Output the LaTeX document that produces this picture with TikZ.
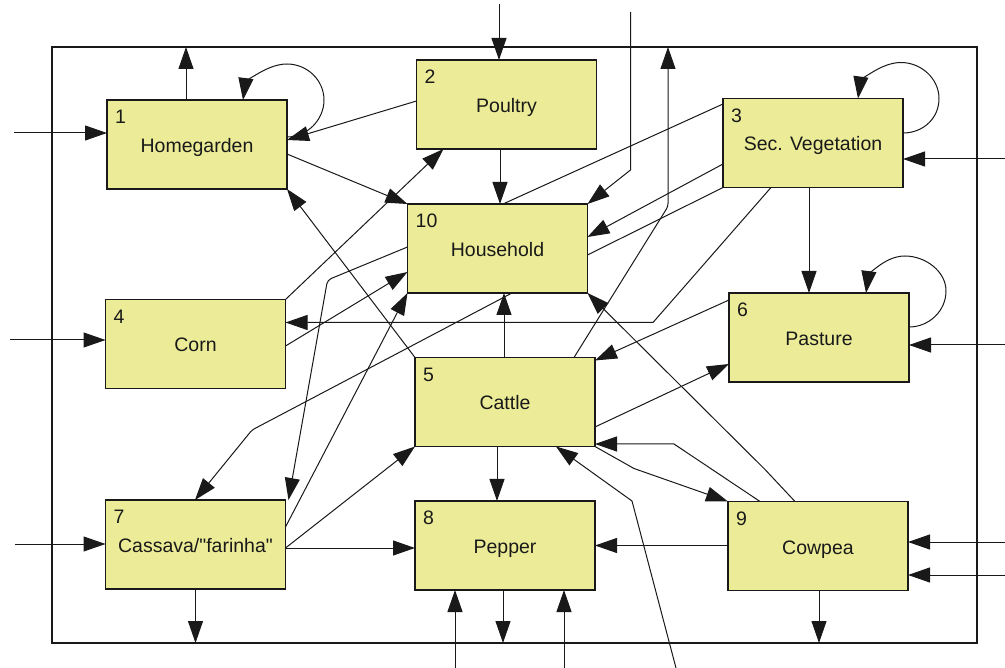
\documentclass[tikz,border=0pt]{standalone}
\usepackage{fontspec}
\setmainfont{Liberation Sans}[Ligatures=TeXOff]
\usetikzlibrary{calc,arrows.meta}
\definecolor{boxfill}{RGB}{236,236,152}
\definecolor{ink}{RGB}{25,25,25}
\begin{document}
\begin{tikzpicture}[x=1pt,y=-1pt,
  box/.style={draw=ink,line width=1.3pt,fill=boxfill,minimum width=180pt,minimum height=89pt,inner sep=0pt,outer sep=0pt,font=\fontsize{19.5}{22}\selectfont,text=ink,text height=16pt,text depth=0pt},
  num/.style={anchor=west,inner sep=0pt,font=\fontsize{19.5}{22}\selectfont,text=ink},
  conn/.style={draw=ink,line width=1pt},
  arr/.style={conn,-{Triangle[length=22pt,width=15pt]}},
  framestyle/.style={draw=ink,line width=1.3pt,minimum width=925pt,minimum height=596pt,inner sep=0pt,outer sep=0pt}]
\useasboundingbox (0,0) rectangle (1005,668);
\node[framestyle] (frame) at (514.5,345) {};
% boxes
\node[box] (n1) at (197,144.5) {Homegarden};
\node[box] (n2) at (506.5,104.5) {Poultry};
\node[box] (n3) at (813,143) {Sec. Vegetation};
\node[box] (n10) at (497.5,248.5) {Household};
\node[box] (n4) at (195.5,344) {Corn};
\node[box] (n6) at (819,337.5) {Pasture};
\node[box] (n5) at (505,402) {Cattle};
\node[box] (n7) at (195.5,544.5) {Cassava/"farinha"};
\node[box] (n8) at (505,545.5) {Pepper};
\node[box] (n9) at (818,546) {Cowpea};
% numbers
\foreach \n/\t in {n1/1,n2/2,n3/3,n10/10,n4/4,n6/6,n5/5,n7/7,n8/8,n9/9}
  \node[num] (l\n) at ($(\n.north west)+(8,17)$) {\t};
% free ends
\coordinate (in1) at (14,133);
\coordinate (in2) at (499,4);
\coordinate (in10) at (630.5,12);
\coordinate (in3) at (1005,159);
\coordinate (in6) at (1005,345);
\coordinate (in4) at (10,340);
\coordinate (in7) at (15,544);
\coordinate (in8a) at (455,668);
\coordinate (in8b) at (564,668);
\coordinate (in9a) at (1005,542);
\coordinate (in9b) at (1005,575);
\coordinate (in5) at (676,668);
% external inputs
\draw[arr] (in1) -- (in1 -| n1.west);
\draw[arr] (in2) -- (in2 |- n2.north);
\draw[arr] (in10) -- ++(0,158) -- (n10.north east);
\draw[arr] (in3) -- (in3 -| n3.east);
\draw[arr] (in6) -- (in6 -| n6.east);
\draw[arr] (in4) -- (in4 -| n4.west);
\draw[arr] (in7) -- (in7 -| n7.west);
\draw[arr] (in8a) -- (in8a |- n8.south);
\draw[arr] (in8b) -- (in8b |- n8.south);
\draw[arr] (in9a) -- (in9a -| n9.east);
\draw[arr] (in9b) -- (in9b -| n9.east);
\draw[arr] (in5) -- ++(-44,-167) -- ($(n5.south west)+(141,0)$);
% outputs to frame
\draw[arr] ($(n1.north west)+(79,0)$) coordinate (o1) -- (o1 |- frame.north);
\draw[arr,rounded corners=3pt] ($(n5.north west)+(159,0)$) -- ++(94,-151) coordinate (o5) -- (o5 |- frame.north);
\draw[arr] (n7.south) -- (n7.south |- frame.south);
\draw[arr] ($(n8.south west)+(88,0)$) coordinate (o8) -- (o8 |- frame.south);
\draw[arr] ($(n9.south west)+(91,0)$) coordinate (o9) -- (o9 |- frame.south);
% self loops
\draw[arr] ($(n1.north east)+(0,37)$) .. controls +(20,0) and +(0,20) .. ($(n1.north east)+(37,0)$)
  .. controls +(0,-20) and +(20,0) .. ($(n1.north east)+(0,-36)$)
  .. controls +(-22,0) and +(2,-15) .. ($(n1.north east)+(-44,0)$);
\draw[arr] ($(n3.north east)+(0,34.5)$) .. controls +(20,0) and +(0,20) .. ($(n3.north east)+(36,0)$)
  .. controls +(0,-20) and +(20,0) .. ($(n3.north east)+(-2,-36)$)
  .. controls +(-22,0) and +(2,-15) .. ($(n3.north east)+(-45,0)$);
\draw[arr] ($(n6.north east)+(0,34)$) .. controls +(20,0) and +(0,20) .. ($(n6.north east)+(37,-2)$)
  .. controls +(0,-20) and +(20,0) .. ($(n6.north east)+(-4,-37)$)
  .. controls +(-22,0) and +(2,-15) .. ($(n6.north east)+(-43,0)$);
% internal connectors
\draw[arr] ($(n2.north west)+(0,41)$) -- ($(n1.north east)+(0,40)$);
\draw[arr] ($(n2.south west)+(83.5,0)$) coordinate (c26) -- (c26 |- n10.north);
\draw[conn] ($(n10.north west)+(95.5,0)$) -- ($(n3.north west)+(0,5.5)$);
\draw[arr] ($(n3.north west)+(0,65.5)$) -- ($(n10.north east)+(0,33)$);
\draw[conn] ($(n10.north east)+(0,51)$) -- (n3.south west);
\draw[arr] ($(n3.south west)+(86,0)$) coordinate (c36) -- (c36 |- n6.north);
\draw[arr] ($(n3.south west)+(48,0)$) -- ++(-118,135) coordinate (c34) -- (c34 -| n4.east);
\draw[arr] ($(n6.north west)+(0,7)$) -- ($(n5.north east)+(0,3)$);
\draw[arr] ($(n5.north east)+(0,69.5)$) -- ($(n6.north west)+(0,71)$);
\draw[arr] ($(n5.north west)+(89,0)$) coordinate (c510) -- (c510 |- n10.south);
\draw[arr,rounded corners=3pt] ($(n10.south west)+(104.5,0)$) -- ++(-260,137) -- ($(n7.north west)+(89.5,0)$);
\draw[arr] (n4.north east) -- ($(n2.south west)+(27,0)$);
\draw[arr] ($(n4.north east)+(0,46.5)$) -- ($(n10.north west)+(0,68)$);
\draw[arr] ($(n1.north east)+(0,54)$) -- (n10.north west);
\draw[arr] (n5.north west) -- (n1.south east);
\draw[arr,rounded corners=4pt] ($(n10.north west)+(0,43)$) -- ++(-80,33) -- ($(n7.north east)+(3,0)$);
\draw[arr] ($(n7.north east)+(0,27)$) -- (n10.south west);
\draw[arr] ($(n7.north east)+(0,48)$) -- (n5.south west);
\draw[arr] ($(n7.north east)+(0,48)$) coordinate (c78) -- (c78 -| n8.west);
\draw[arr] ($(n5.south west)+(82,0)$) coordinate (c58) -- (c58 |- n8.north);
\draw[arr] ($(n9.north west)+(0,44)$) coordinate (c98) -- (c98 -| n8.east);
\draw[arr] ($(n9.north west)+(32,0)$) -- ++(-86,-57.5) coordinate (c95) -- (c95 -| n5.east);
\draw[arr] (n5.south east) -- ++(39,22) -- (n9.north west);
\draw[arr] ($(n9.north west)+(67,0)$) -- ++(-30,-32) -- (n10.south east);
\end{tikzpicture}
\end{document}
